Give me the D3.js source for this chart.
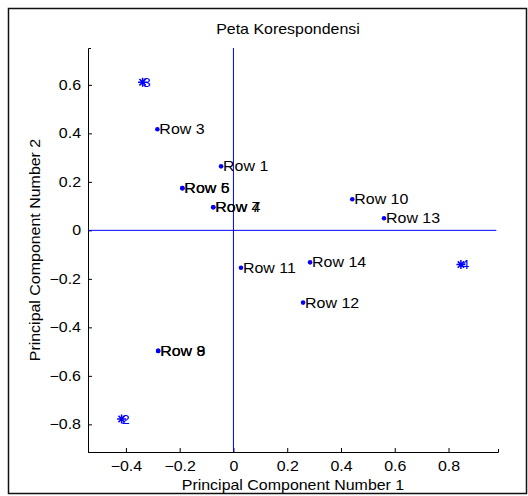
<!DOCTYPE html>
<html>
<head>
<meta charset="utf-8">
<script src="https://cdn.jsdelivr.net/npm/d3@7"></script>
<style>
  body { margin: 0; background: #fff; }
  text { font-family: Arial, "Liberation Sans", sans-serif; fill: #000; }
  .axis path, .axis line { stroke: #000; stroke-width: 1; }
  .axis text { font-size: 14px; }
</style>
</head>
<body>
<div id="chart"></div>
<script>
// Row profiles (black labels, blue dots)
var rowNames = ['Row 1', 'Row 3', 'Row 4', 'Row 5', 'Row 6', 'Row 7', 'Row 8', 'Row 9',
                'Row 10', 'Row 11', 'Row 12', 'Row 13', 'Row 14'];
var rowX = [-0.046, -0.283, -0.075, -0.190, -0.190, -0.075, -0.280, -0.280,
            0.442, 0.028, 0.259, 0.560, 0.285];
var rowY = [0.264, 0.417, 0.095, 0.174, 0.174, 0.095, -0.497, -0.497,
            0.128, -0.154, -0.298, 0.050, -0.132];

// Column profiles (blue stars)
var colNames = ['2', '3', '4'];
var colX = [-0.416, -0.338, 0.846];
var colY = [-0.778, 0.611, -0.141];

var xTicks = [-0.4, -0.2, 0, 0.2, 0.4, 0.6, 0.8];
var yTicks = [-0.8, -0.6, -0.4, -0.2, 0, 0.2, 0.4, 0.6];

var W = 528, H = 496;
var margin = {top: 48, right: 30, bottom: 44, left: 88};
var width = W - margin.left - margin.right,
    height = H - margin.top - margin.bottom;
var stretch = 'scale(1.14,1)';

var svg = d3.select('#chart').append('svg')
  .attr('width', W)
  .attr('height', H);

// outer frame
svg.append('rect')
  .attr('x', 8.5).attr('y', 8.5)
  .attr('width', W - 10).attr('height', H - 11)
  .attr('fill', 'none')
  .attr('stroke', '#111')
  .attr('stroke-width', 1.5);

var g = svg.append('g')
  .attr('transform', 'translate(' + margin.left + ',' + margin.top + ')');

var x = d3.scaleLinear().domain([-0.541, 0.984]).range([0, width]);
var y = d3.scaleLinear().domain([-0.914, 0.752]).range([height, 0]);

var fmt = function(d){ return d === 0 ? '0' : d3.format('.1f')(d); };

var xAxis = d3.axisBottom(x)
  .tickValues(xTicks)
  .tickSizeInner(-4)
  .tickSizeOuter(-3)
  .tickPadding(9)
  .tickFormat(fmt);

var yAxis = d3.axisLeft(y)
  .tickValues(yTicks)
  .tickSizeInner(-4)
  .tickSizeOuter(-3)
  .tickPadding(7)
  .tickFormat(fmt);

g.append('g')
  .attr('class', 'x axis')
  .attr('transform', 'translate(0,' + height + ')')
  .call(xAxis);

g.append('g')
  .attr('class', 'y axis')
  .call(yAxis);

// stretch tick labels a bit wider, like the original
g.selectAll('.axis .tick text').attr('transform', stretch);
g.selectAll('.y.axis .tick text').each(function(){
  var t = d3.select(this);
  t.attr('x', +t.attr('x') / 1.14);
});

// zero reference lines
g.append('line')
  .attr('x1', x(0)).attr('x2', x(0))
  .attr('y1', 0).attr('y2', height)
  .attr('stroke', '#0000ff').attr('stroke-width', 1);

g.append('line')
  .attr('x1', 0).attr('x2', x(0.978))
  .attr('y1', y(0)).attr('y2', y(0))
  .attr('stroke', '#0000ff').attr('stroke-width', 1);

// rows
var rows = rowNames.map(function(n, i){ return {name: n, x: rowX[i], y: rowY[i]}; });

var rowG = g.append('g').attr('class', 'rows')
  .selectAll('g')
  .data(rows)
  .enter().append('g')
  .attr('transform', function(d){ return 'translate(' + x(d.x) + ',' + y(d.y) + ')'; });

rowG.append('circle')
  .attr('r', 2.3)
  .attr('fill', '#0000ff');

rowG.append('text')
  .attr('transform', 'translate(2,0) ' + stretch)
  .attr('dy', '0.36em')
  .style('font-size', '14px')
  .text(function(d){ return d.name; });

// columns
var cols = colNames.map(function(n, i){ return {name: n, x: colX[i], y: colY[i]}; });

var star = function(r){
  var a = r * Math.SQRT1_2;
  return 'M' + (-r) + ',0L' + r + ',0M0,' + (-r) + 'L0,' + r +
         'M' + (-a) + ',' + (-a) + 'L' + a + ',' + a +
         'M' + (-a) + ',' + a + 'L' + a + ',' + (-a);
};

var colG = g.append('g').attr('class', 'cols')
  .selectAll('g')
  .data(cols)
  .enter().append('g')
  .attr('transform', function(d){ return 'translate(' + x(d.x) + ',' + y(d.y) + ')'; });

colG.append('path')
  .attr('d', star(4.5))
  .attr('stroke', '#0000ff')
  .attr('stroke-width', 1.5)
  .attr('fill', 'none');

colG.append('text')
  .attr('transform', 'translate(0,0) ' + stretch)
  .attr('dy', '0.36em')
  .style('font-size', '13px')
  .style('fill', '#0000ff')
  .text(function(d){ return d.name; });

// title and axis labels
svg.append('text')
  .attr('transform', 'translate(288,34) ' + stretch)
  .attr('text-anchor', 'middle')
  .style('font-size', '14px')
  .text('Peta Korespondensi');

svg.append('text')
  .attr('transform', 'translate(' + (margin.left + width / 2) + ',490) ' + stretch)
  .attr('text-anchor', 'middle')
  .style('font-size', '14px')
  .text('Principal Component Number 1');

svg.append('text')
  .attr('transform', 'translate(40,' + (margin.top + height / 2) + ') rotate(-90) ' + stretch)
  .attr('text-anchor', 'middle')
  .style('font-size', '14px')
  .text('Principal Component Number 2');
</script>
</body>
</html>
